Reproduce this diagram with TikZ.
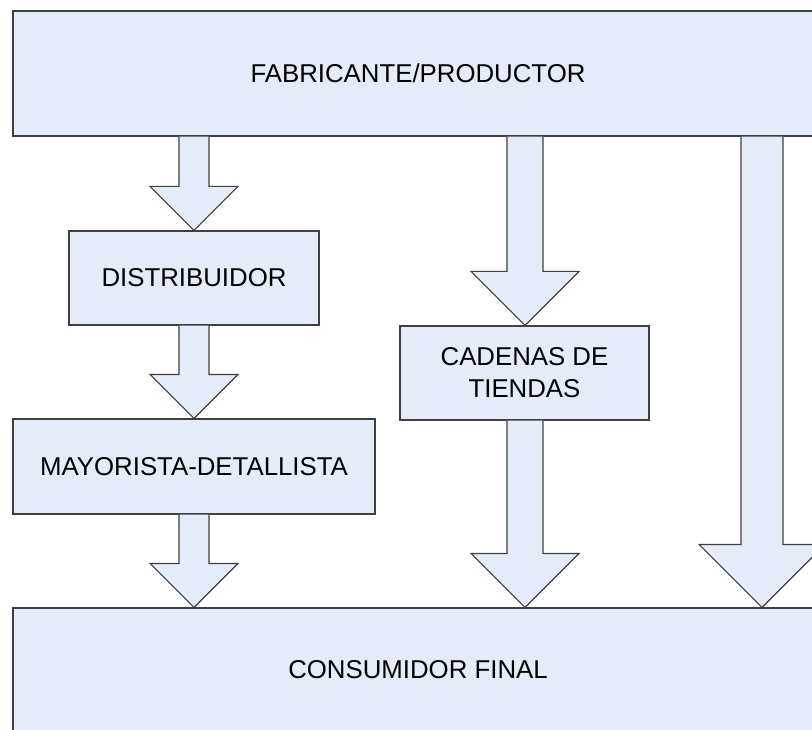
\documentclass[tikz,border=0pt]{standalone}
\usepackage{fontspec}
\setmainfont{Liberation Sans}
\usetikzlibrary{calc}

\definecolor{boxfill}{RGB}{230,236,247}
\definecolor{boxline}{RGB}{64,64,64}

\tikzset{
  stagebox/.style={draw=boxline, fill=boxfill, line width=1.2pt, inner sep=0pt,
    align=center, font=\fontsize{25.8}{32}\selectfont},
  flowarrow/.style={draw=boxline, fill=boxfill, line width=1.2pt, line join=miter},
}

% block arrow: x, from node, to node, half shaft width, half head width
\newcommand{\blockarrow}[5]{%
  \draw[flowarrow] let \p1=(#2.south), \p2=(#3.north) in
    ({(#1-#4)*1pt},\y1) -- ({(#1-#4)*1pt},{\y2+#5*1pt})
    -- ({(#1-#5)*1pt},{\y2+#5*1pt}) -- ({#1*1pt},\y2)
    -- ({(#1+#5)*1pt},{\y2+#5*1pt}) -- ({(#1+#4)*1pt},{\y2+#5*1pt})
    -- ({(#1+#4)*1pt},\y1);%
}

\begin{document}
\begin{tikzpicture}[x=1pt,y=-1pt]
  \useasboundingbox (0,0) rectangle (812,730);
  \clip (0,0) rectangle (812,730);

  % top and bottom
  \node[stagebox, minimum width=810pt, minimum height=125pt] (fab) at (418,73.5) {FABRICANTE/PRODUCTOR};
  \node[stagebox, minimum width=810pt, minimum height=124pt] (cons) at (418,670) {CONSUMIDOR FINAL};

  % left chain
  \node[stagebox, minimum width=250pt, minimum height=94pt] (dist) at (194,278) {DISTRIBUIDOR};
  \node[stagebox, minimum width=362pt, minimum height=95pt] (mayor) at (194,466.5) {MAYORISTA-DETALLISTA};

  % middle
  \node[stagebox, minimum width=249pt, minimum height=94pt] (cad) at (524.5,373) {CADENAS DE\\TIENDAS};

  % arrows
  \blockarrow{194}{fab}{dist}{15}{44}
  \blockarrow{194}{dist}{mayor}{15}{44}
  \blockarrow{194}{mayor}{cons}{15}{44}
  \blockarrow{525}{fab}{cad}{18}{54}
  \blockarrow{525}{cad}{cons}{18}{54}
  \blockarrow{762}{fab}{cons}{21}{63}
\end{tikzpicture}
\end{document}
